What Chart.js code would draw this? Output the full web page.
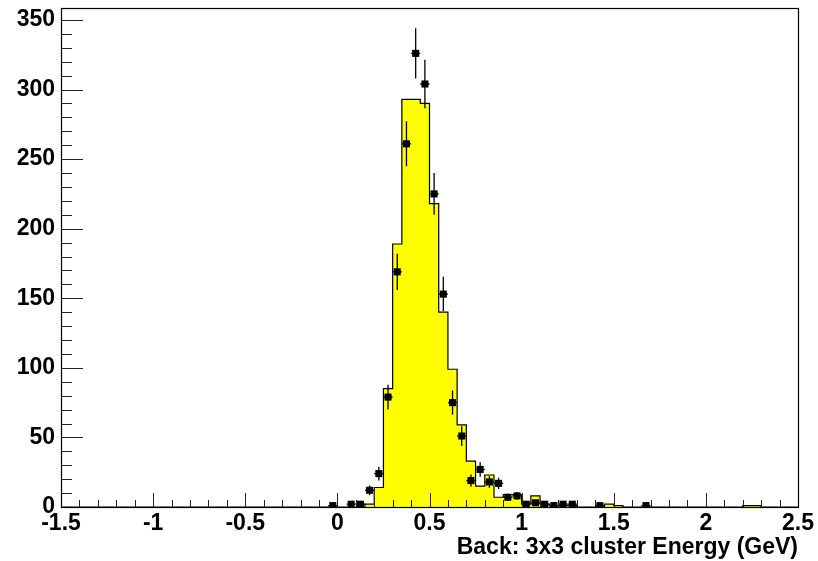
<!DOCTYPE html>
<html>
<head>
<meta charset="utf-8">
<script src="https://cdn.jsdelivr.net/npm/chart.js@4.4.1/dist/chart.umd.min.js"></script>
<style>
    html, body { margin: 0; padding: 0; background: #ffffff; }
    #wrap { width: 818px; height: 561px; }
</style>
</head>
<body>
<div id="wrap"><canvas id="hist"></canvas></div>
<script>
// histogram range
const xMin = -1.5;
const xMax = 2.5;
const binWidth = 0.05;
const yMax = 358.6;

// tick labels
const xTickValues = [-1.5, -1, -0.5, 0, 0.5, 1, 1.5, 2, 2.5];
const yTickValues = [0, 50, 100, 150, 200, 250, 300, 350];

// simulated histogram (yellow), non-empty bins only
const mcBinLow = [0.15, 0.20, 0.25, 0.30, 0.35, 0.40, 0.45, 0.50, 0.55, 0.60,
                  0.65, 0.70, 0.75, 0.80, 0.85, 0.90, 0.95, 1.00, 1.05, 1.10,
                  1.15, 1.20, 1.25, 1.45, 1.50, 2.20, 2.25];
const mcCounts = [2, 14, 85, 189, 293, 293, 290, 218, 140, 99,
                  59, 33, 15, 23, 7, 9, 9, 2, 8, 2,
                  1, 1, 1, 2, 1, 1, 1];

// data points with errors
const dataX = [-0.025, 0.075, 0.125, 0.175, 0.225, 0.275, 0.325, 0.375, 0.425, 0.475,
               0.525, 0.575, 0.625, 0.675, 0.725, 0.775, 0.825, 0.875, 0.925, 0.975,
               1.025, 1.075, 1.125, 1.175, 1.225, 1.275, 1.425, 1.675];
const dataCounts = [1, 2, 2, 12, 24, 79, 169, 261, 326, 304,
                    225, 153, 75, 51, 19, 27, 18, 17, 7, 8,
                    2, 3, 2, 1, 2, 2, 1, 1];
const dataErr = [1, 1.4, 1.4, 3.5, 4.9, 8.9, 13, 16.2, 18.1, 17.4,
                 15, 12.4, 8.7, 7.1, 4.4, 5.2, 4.2, 4.1, 2.6, 2.8,
                 1.4, 1.7, 1.4, 1, 1.4, 1.4, 1, 1];

const xMajor = 0.5, xMinor = 0.1;
const yMajor = 50, yMinor = 10;

const axisFont = { family: "'Liberation Sans', Arial, sans-serif", size: 23, weight: "bold" };

// build the step outline from the bins
function buildHistogram() {
    const nBins = Math.round((xMax - xMin) / binWidth);
    const points = [];
    for (let i = 0; i < nBins; i++) {
        const low = xMin + i * binWidth;
        let v = 0;
        mcBinLow.forEach((b, k) => {
            if (Math.abs(b - low) < 1e-6) v = mcCounts[k];
        });
        points.push({ x: low, y: v });
    }
    points.push({ x: xMax, y: points[points.length - 1].y });
    return points;
}

const framePlugin = {
    id: "rootFrame",
    afterDatasetsDraw(chart) {
        const ctx = chart.ctx;
        const xs = chart.scales.x;
        const ys = chart.scales.y;
        const area = chart.chartArea;

        // error bars
        ctx.save();
        ctx.strokeStyle = "#000000";
        ctx.lineWidth = 1.3;
        dataX.forEach((x, i) => {
            const px = xs.getPixelForValue(x);
            const py = ys.getPixelForValue(dataCounts[i]);
            ctx.beginPath();
            ctx.moveTo(px, ys.getPixelForValue(dataCounts[i] + dataErr[i]));
            ctx.lineTo(px, ys.getPixelForValue(Math.max(dataCounts[i] - dataErr[i], 0)));
            ctx.moveTo(xs.getPixelForValue(x - binWidth / 2), py);
            ctx.lineTo(xs.getPixelForValue(x + binWidth / 2), py);
            ctx.stroke();
        });
        ctx.restore();

        // ticks inside the frame
        ctx.save();
        ctx.strokeStyle = "#222222";
        ctx.lineWidth = 1;
        ctx.beginPath();
        const nx = Math.round((xMax - xMin) / xMinor);
        for (let i = 1; i < nx; i++) {
            const v = xMin + i * xMinor;
            const px = Math.round(xs.getPixelForValue(v)) + 0.5;
            const major = Math.abs(v / xMajor - Math.round(v / xMajor)) < 1e-6;
            ctx.moveTo(px, area.bottom);
            ctx.lineTo(px, area.bottom - (major ? 14 : 7));
        }
        for (let v = yMinor; v < yMax; v += yMinor) {
            const py = Math.round(ys.getPixelForValue(v)) + 0.5;
            const major = v % yMajor === 0;
            ctx.moveTo(area.left, py);
            ctx.lineTo(area.left + (major ? 22 : 11), py);
        }
        ctx.stroke();

        // frame
        ctx.strokeStyle = "#000000";
        ctx.lineWidth = 1.2;
        ctx.strokeRect(Math.round(area.left) + 0.5, Math.round(area.top) + 0.5,
                       Math.round(area.right - area.left), Math.round(area.bottom - area.top));
        ctx.restore();
    }
};

new Chart(document.getElementById("hist"), {
    data: {
        datasets: [
            {
                type: "scatter",
                data: dataX.map((x, i) => ({ x: x, y: dataCounts[i] })),
                backgroundColor: "#000000",
                borderColor: "#000000",
                pointStyle: "rect",
                pointRadius: 5,
                pointBorderWidth: 0,
                order: 0
            },
            {
                type: "line",
                data: buildHistogram(),
                stepped: "before",
                fill: "origin",
                backgroundColor: "#ffff00",
                borderColor: "#000000",
                borderWidth: 1.2,
                pointRadius: 0,
                order: 1
            }
        ]
    },
    options: {
        responsive: true,
        maintainAspectRatio: false,
        animation: false,
        layout: { padding: { left: 0, right: 20, top: 8, bottom: 0 } },
        plugins: {
            legend: { display: false },
            tooltip: { enabled: false }
        },
        scales: {
            x: {
                type: "linear",
                min: xMin,
                max: xMax,
                grid: { display: false, drawTicks: false },
                border: { display: false },
                ticks: {
                    color: "#000000",
                    font: axisFont,
                    padding: 3,
                    maxRotation: 0,
                    autoSkip: false,
                    callback: (v) => String(v)
                },
                title: {
                    display: true,
                    text: "Back: 3x3 cluster Energy (GeV)",
                    align: "end",
                    color: "#000000",
                    font: { family: "'Liberation Sans', Arial, sans-serif", size: 23, weight: "bold" },
                    padding: 0
                },
                afterBuildTicks(scale) {
                    scale.ticks = xTickValues.map(v => ({ value: v }));
                },
                afterFit(scale) {
                    scale.height = 54;
                    scale.paddingLeft = 0;
                    scale.paddingRight = 0;
                }
            },
            y: {
                type: "linear",
                min: 0,
                max: yMax,
                grid: { display: false, drawTicks: false },
                border: { display: false },
                ticks: {
                    color: "#000000",
                    font: axisFont,
                    padding: 6,
                    callback: (v) => String(v)
                },
                afterBuildTicks(scale) {
                    scale.ticks = yTickValues.map(v => ({ value: v }));
                },
                afterFit(scale) {
                    scale.width = 61;
                    scale.paddingTop = 0;
                    scale.paddingBottom = 0;
                }
            }
        }
    },
    plugins: [framePlugin]
});
</script>
</body>
</html>
